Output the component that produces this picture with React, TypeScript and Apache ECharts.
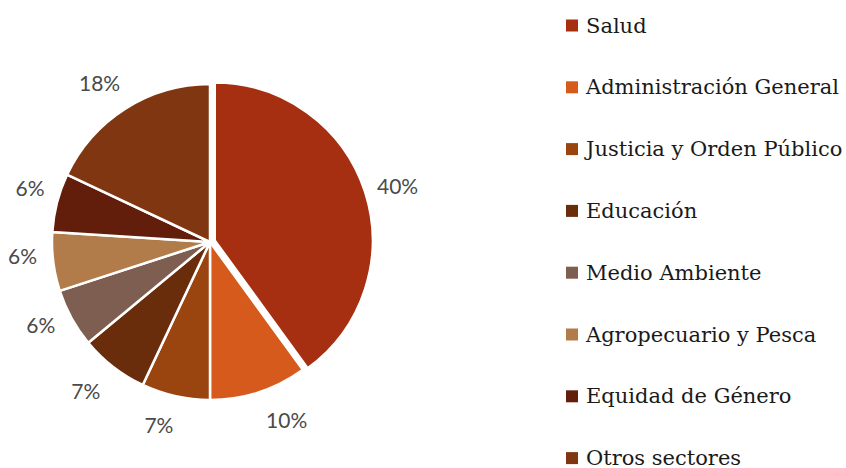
import React, { useEffect, useRef } from "react";
import * as echarts from "echarts";

const categories = [
  "Salud",
  "Administración General",
  "Justicia y Orden Público",
  "Educación",
  "Medio Ambiente",
  "Agropecuario y Pesca",
  "Equidad de Género",
  "Otros sectores",
];
const values = [40, 10, 7, 7, 6, 6, 6, 18];
const colors = ["#A52F10", "#D65A1B", "#9A4510", "#6A2D0C", "#7E5E50", "#B27C4A", "#631E0B", "#803611"];
// fine label nudges (px) to match the reference placement
const labelNudges = [[4, 3], [17, -6], [-9, -6], [-6, -4], [0, -10], [4, -11], [7, -7], [-7, 3]];

export default function App() {
  const ref = useRef<HTMLDivElement>(null);
  useEffect(() => {
    if (!ref.current) return;
    const chart = echarts.init(ref.current, null, { renderer: "svg" });
    chart.setOption({
      animation: false,
      color: colors,
      legend: {
        type: "plain",
        orient: "vertical",
        left: 561,
        top: 10,
        height: 520,
        width: 290,
        icon: "rect",
        itemWidth: 12,
        itemHeight: 12,
        itemGap: 40.8,
        selectedMode: false,
        itemStyle: { borderWidth: 0 },
        textStyle: { fontFamily: "DejaVu Serif", fontSize: 21, color: "#1a1a1a", padding: [0, 0, 0, 3] },
        data: categories,
      },
      series: [
        {
          type: "pie",
          center: [210, 242],
          radius: [0, 158],
          startAngle: 90,
          clockwise: true,
          selectedMode: "single",
          selectedOffset: 5,
          itemStyle: { borderColor: "#fff", borderWidth: 2.5 },
          label: { show: false },
          labelLine: { show: false },
          emphasis: { disabled: true },
          data: categories.map((name, i) => ({ name, value: values[i], selected: i === 0 })),
        },
        {
          type: "pie",
          center: [210, 242],
          radius: [180, 200],
          startAngle: 90,
          clockwise: true,
          silent: true,
          itemStyle: { color: "rgba(0,0,0,0)", borderWidth: 0 },
          label: {
            show: true,
            position: "inside",
            formatter: "{c}%",
            fontFamily: "Lato",
            fontSize: 21,
            color: "#4a4a4a",
          },
          labelLine: { show: false },
          emphasis: { disabled: true },
          data: categories.map((name, i) => ({ name, value: values[i], label: { offset: labelNudges[i] } })),
        },
      ],
    });
    return () => chart.dispose();
  }, []);
  return <div ref={ref} style={{ position: "absolute", left: 0, top: 0, width: 846, height: 468 }} />;
}
